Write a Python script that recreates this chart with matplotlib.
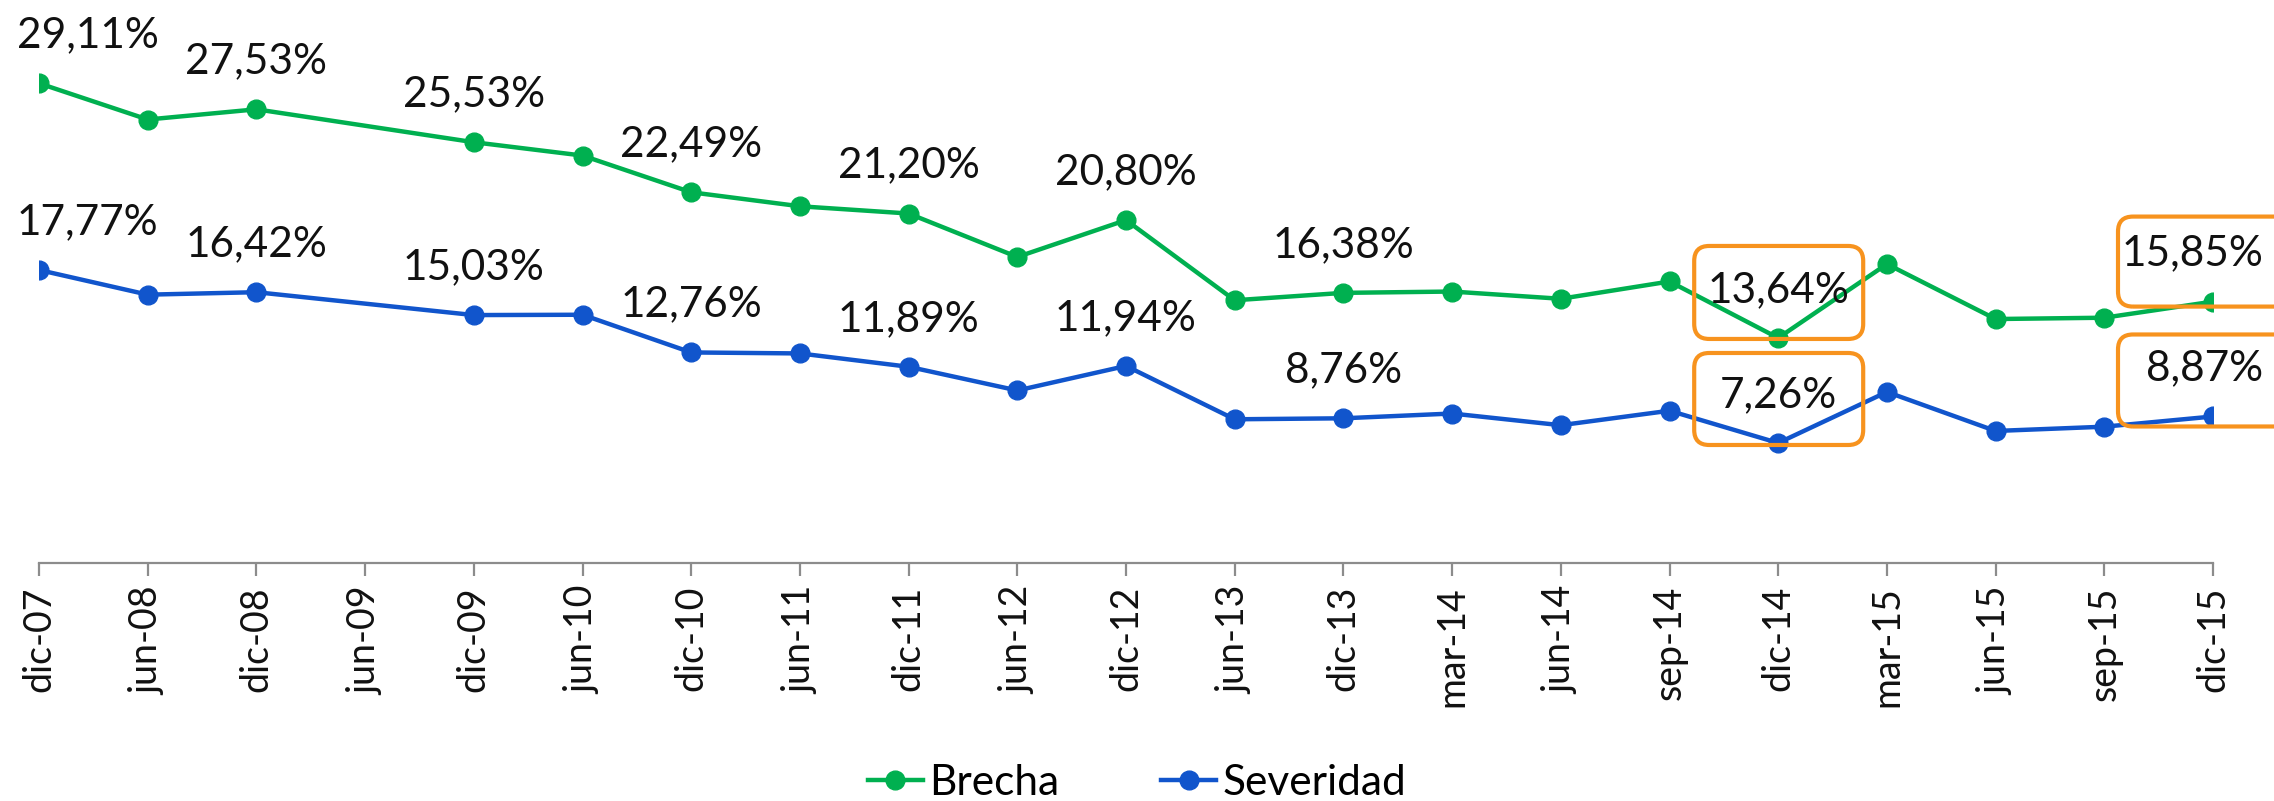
import numpy as np
import matplotlib
matplotlib.use("Agg")
import matplotlib.pyplot as plt
from matplotlib.patches import FancyBboxPatch
from matplotlib.transforms import ScaledTranslation

plt.rcParams['font.family'] = ['Lato', 'DejaVu Sans']

# Datos (porcentajes)
periodos = ['dic-07', 'jun-08', 'dic-08', 'jun-09', 'dic-09', 'jun-10', 'dic-10',
            'jun-11', 'dic-11', 'jun-12', 'dic-12', 'jun-13', 'dic-13', 'mar-14',
            'jun-14', 'sep-14', 'dic-14', 'mar-15', 'jun-15', 'sep-15', 'dic-15']
brecha = [29.11, 26.91, 27.53, np.nan, 25.53, 24.72, 22.49, 21.64, 21.20, 18.56, 20.80,
          15.93, 16.38, 16.46, 16.02, 17.07, 13.64, 18.13, 14.79, 14.87, 15.85]
severidad = [17.77, 16.27, 16.42, np.nan, 15.03, 15.05, 12.76, 12.70, 11.89, 10.45, 11.94,
             8.70, 8.76, 9.05, 8.34, 9.22, 7.26, 10.36, 7.99, 8.25, 8.87]
con_etiqueta = ['dic-07', 'dic-08', 'dic-09', 'dic-10', 'dic-11', 'dic-12', 'dic-13', 'dic-14', 'dic-15']

verde = '#00B050'
azul = '#1155CC'
naranja = '#F7931E'

fig = plt.figure(figsize=(22.74, 8.01), dpi=100)
ax = fig.add_axes([39 / 2274, 1 - 562.5 / 801, (2213 - 39) / 2274, 562.5 / 801])

x = np.arange(len(periodos))
series = [('Brecha', brecha, verde), ('Severidad', severidad, azul)]
for nombre, valores, color in series:
    v = np.array(valores)
    ok = ~np.isnan(v)
    ax.plot(x[ok], v[ok], color=color, lw=3.2, marker='o', ms=13.5, label=nombre)

# Etiquetas de datos (las de los extremos se ajustan al borde)
for nombre, valores, color in series:
    for p in con_etiqueta:
        i = periodos.index(p)
        txt = f"{valores[i]:.2f}%".replace('.', ',')
        if i == len(periodos) - 1:
            dx, ha = 50, 'right'
        elif i == 0:
            dx, ha = -22, 'left'
        else:
            dx, ha = 0, 'center'
        ax.annotate(txt, (i, valores[i]), xytext=(dx, 48), textcoords='offset pixels',
                    ha=ha, va='center', fontsize=30.5, color='#111111',
                    annotation_clip=False)

# Recuadros naranjas (en pixeles respecto al punto)
cajas = {('dic-14', 0): (-84, 85, -1, 92), ('dic-14', 1): (-84, 85, -2, 90),
         ('dic-15', 0): (-95, 110, -5, 85), ('dic-15', 1): (-95, 110, -10, 82)}
for (p, s), (x0, x1, y0, y1) in cajas.items():
    i = periodos.index(p)
    val = series[s][1][i]
    tr = fig.dpi_scale_trans + ScaledTranslation(i, val, ax.transData)
    caja = FancyBboxPatch((x0 / 100, y0 / 100), (x1 - x0) / 100, (y1 - y0) / 100,
                          boxstyle='round,pad=0,rounding_size=0.15', transform=tr,
                          fill=False, ec=naranja, lw=3, clip_on=False, zorder=5)
    ax.add_patch(caja)

ax.set_xlim(0, len(periodos) - 1)
ax.set_ylim(0, 34.17)
ax.set_xticks(x)
ax.set_xticklabels(periodos, rotation=90, fontsize=27, color='#111111')
ax.set_yticks([])
for lado in ['left', 'right', 'top']:
    ax.spines[lado].set_visible(False)
ax.spines['bottom'].set_color('#8C8C8C')
ax.spines['bottom'].set_linewidth(1.6)
ax.tick_params(axis='x', length=9, width=1.6, color='#8C8C8C', pad=8)

fig.legend(loc='center', bbox_to_anchor=(0.5, 1 - 783 / 801), ncol=2, frameon=False,
           fontsize=30.5, handlelength=1.3, handletextpad=0.15, columnspacing=2.4)

fig.savefig('out.png', dpi=100)
